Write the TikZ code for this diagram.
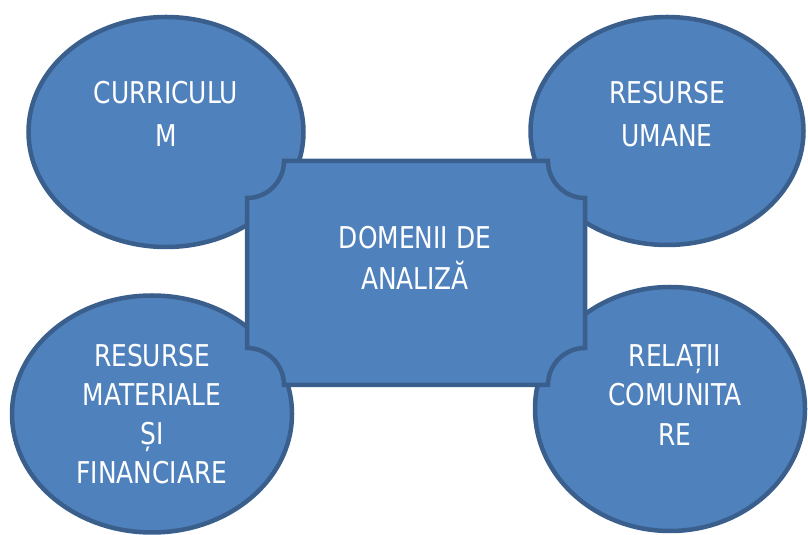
\documentclass[tikz,border=0pt]{standalone}
\usepackage{fontspec}
\newfontfamily\lblfont[FakeStretch=0.83]{DejaVu Sans}
\usetikzlibrary{shapes.geometric}
\definecolor{boxfill}{HTML}{4F81BD}
\definecolor{boxline}{HTML}{3A5F8C}
\tikzset{
  blob/.style={ellipse, draw=boxline, fill=boxfill, line width=4.5pt, inner sep=0pt},
  plaquebox/.style={draw=boxline, fill=boxfill, line width=4.5pt, line join=miter},
  lbl/.style={text=white, font=\lblfont\fontsize{30}{34}\selectfont, anchor=base, inner sep=0pt}
}
\begin{document}
\begin{tikzpicture}[x=1pt,y=1pt]
\useasboundingbox (0,0) rectangle (808,535);
\clip (0,0) rectangle (808,535);
% ellipses
\node[blob, minimum width=275pt, minimum height=230pt] (tl) at (166,403) {};
\node[blob, minimum width=273pt, minimum height=228pt] (tr) at (667,404) {};
\node[blob, minimum width=280pt, minimum height=237pt] (bl) at (152,121) {};
\node[blob, minimum width=270pt, minimum height=244pt] (br) at (670,126) {};
% central plaque
\def\L{247}\def\R{585}\def\T{374}\def\B{150}\def\rr{37}
\draw[plaquebox] (\L+\rr,\T) -- (\R-\rr,\T)
  arc[start angle=180, end angle=270, radius=\rr]
  -- (\R,\B+\rr)
  arc[start angle=90, end angle=180, radius=\rr]
  -- (\L+\rr,\B)
  arc[start angle=0, end angle=90, radius=\rr]
  -- (\L,\T-\rr)
  arc[start angle=270, end angle=360, radius=\rr]
  -- cycle;
\coordinate (plaque) at (416,262);
% texts
\node[lbl] (tl1) at (166,431) {CURRICULU};
\node[lbl] (tl2) at (166,388) {M};
\node[lbl] (tr1) at (667,431) {RESURSE};
\node[lbl] (tr2) at (667,388) {UMANE};
\node[lbl] (c1) at (415,286) {DOMENII DE};
\node[lbl] (c2) at (415,245) {ANALIZĂ};
\node[lbl] (bl1) at (152,168) {RESURSE};
\node[lbl] (bl2) at (152,129) {MATERIALE};
\node[lbl] (bl3) at (152,90) {ȘI};
\node[lbl] (bl4) at (152,51) {FINANCIARE};
\node[lbl] (br1) at (675,168) {RELAȚII};
\node[lbl] (br2) at (675,129) {COMUNITA};
\node[lbl] (br3) at (675,89) {RE};
\end{tikzpicture}
\end{document}
